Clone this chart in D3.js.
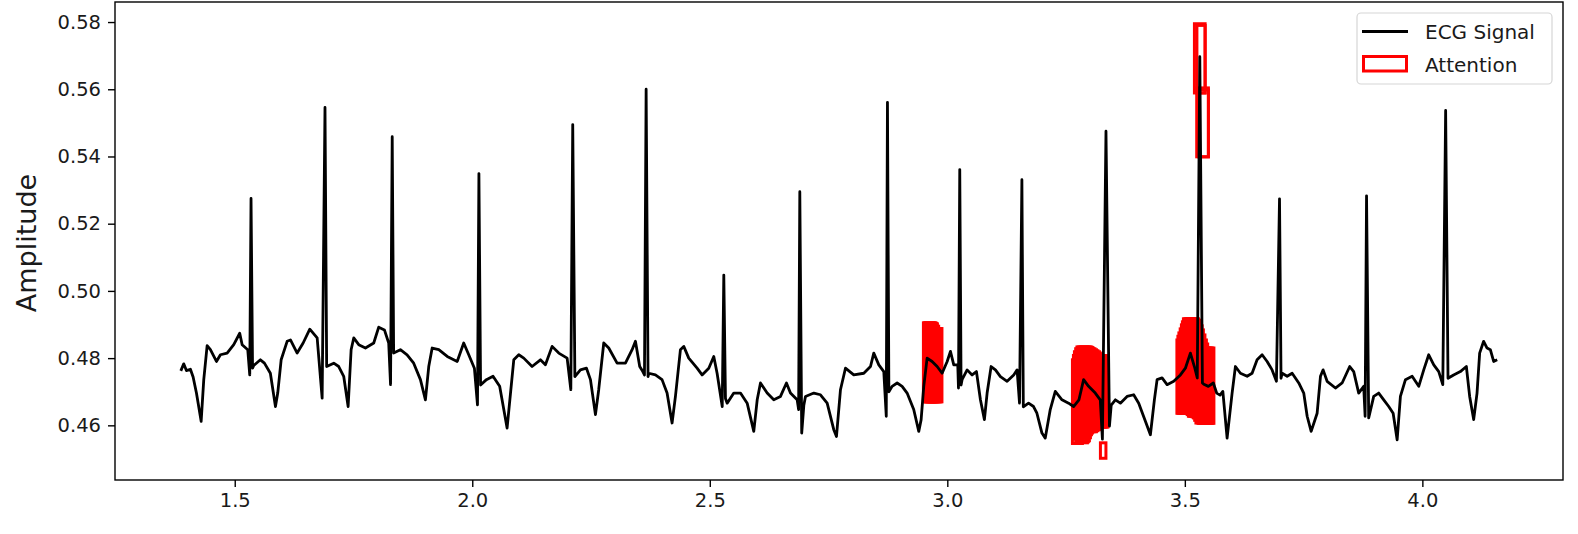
<!DOCTYPE html>
<html>
<head>
<meta charset="utf-8">
<script src="https://cdn.jsdelivr.net/npm/d3@7"></script>
<style>
    body { margin: 0; background: #fff; }
    text { font-family: "DejaVu Sans", sans-serif; }
</style>
</head>
<body>
<div id="chart"></div>
<script>
// ECG trace: [time (s), amplitude]
const ecgSignal = [
    [1.3865, 0.4762], [1.3926, 0.4783], [1.3983, 0.4763], [1.4067, 0.4767], [1.4124, 0.4744],
    [1.4194, 0.4696], [1.4293, 0.4612], [1.4348, 0.4736], [1.4419, 0.4837], [1.4488, 0.4825],
    [1.4615, 0.4790], [1.4699, 0.4810], [1.4840, 0.4815], [1.4979, 0.4840], [1.5105, 0.4874],
    [1.5156, 0.4840], [1.5274, 0.4825], [1.5316, 0.4750], [1.5343, 0.5275], [1.5375, 0.4770],
    [1.5400, 0.4778], [1.5540, 0.4795], [1.5625, 0.4785], [1.5750, 0.4755], [1.5857, 0.4656],
    [1.5905, 0.4696], [1.5977, 0.4795], [1.6103, 0.4850], [1.6173, 0.4854], [1.6314, 0.4815],
    [1.6440, 0.4845], [1.6580, 0.4886], [1.6735, 0.4860], [1.6840, 0.4681], [1.6900, 0.5546],
    [1.6935, 0.4775], [1.7084, 0.4785], [1.7189, 0.4775], [1.7294, 0.4746], [1.7387, 0.4656],
    [1.7450, 0.4825], [1.7505, 0.4860], [1.7610, 0.4840], [1.7751, 0.4830], [1.7926, 0.4845],
    [1.8031, 0.4892], [1.8151, 0.4884], [1.8241, 0.4845], [1.8280, 0.4721], [1.8315, 0.5459],
    [1.8345, 0.4815], [1.8487, 0.4825], [1.8628, 0.4810], [1.8767, 0.4785], [1.8909, 0.4736],
    [1.9014, 0.4676], [1.9084, 0.4775], [1.9156, 0.4830], [1.9295, 0.4825], [1.9473, 0.4805],
    [1.9683, 0.4790], [1.9820, 0.4845], [1.9926, 0.4810], [2.0045, 0.4770], [2.0110, 0.4661],
    [2.0140, 0.5349], [2.0175, 0.4720], [2.0298, 0.4736], [2.0437, 0.4746], [2.0577, 0.4716],
    [2.0733, 0.4592], [2.0874, 0.4795], [2.0979, 0.4810], [2.1084, 0.4800], [2.1259, 0.4775],
    [2.1435, 0.4795], [2.1540, 0.4780], [2.1681, 0.4835], [2.1821, 0.4815], [2.1997, 0.4800],
    [2.2075, 0.4706], [2.2115, 0.5495], [2.2160, 0.4745], [2.2277, 0.4765], [2.2404, 0.4770],
    [2.2488, 0.4736], [2.2593, 0.4632], [2.2662, 0.4706], [2.2768, 0.4845], [2.2873, 0.4830],
    [2.3049, 0.4785], [2.3224, 0.4785], [2.3365, 0.4825], [2.3435, 0.4850], [2.3525, 0.4775],
    [2.3590, 0.4760], [2.3625, 0.4750], [2.3660, 0.5600], [2.3700, 0.4745], [2.3716, 0.4755],
    [2.3856, 0.4750], [2.3995, 0.4736], [2.4101, 0.4696], [2.4206, 0.4607], [2.4277, 0.4686],
    [2.4382, 0.4825], [2.4452, 0.4835], [2.4557, 0.4800], [2.4733, 0.4770], [2.4838, 0.4750],
    [2.4979, 0.4770], [2.5084, 0.4805], [2.5154, 0.4755], [2.5262, 0.4656], [2.5295, 0.5047],
    [2.5330, 0.4680], [2.5366, 0.4666], [2.5505, 0.4696], [2.5646, 0.4696], [2.5787, 0.4666],
    [2.5926, 0.4582], [2.5998, 0.4676], [2.6067, 0.4726], [2.6208, 0.4696], [2.6347, 0.4676],
    [2.6488, 0.4686], [2.6614, 0.4726], [2.6698, 0.4696], [2.6839, 0.4676], [2.6870, 0.4647],
    [2.6895, 0.5295], [2.6935, 0.4577], [2.6980, 0.4660], [2.7014, 0.4686], [2.7190, 0.4696],
    [2.7330, 0.4691], [2.7471, 0.4666], [2.7610, 0.4587], [2.7667, 0.4567], [2.7751, 0.4706],
    [2.7856, 0.4770], [2.8031, 0.4750], [2.8242, 0.4755], [2.8383, 0.4775], [2.8452, 0.4815],
    [2.8558, 0.4780], [2.8663, 0.4760], [2.8715, 0.4627], [2.8740, 0.5561], [2.8770, 0.4700],
    [2.8838, 0.4716], [2.8944, 0.4726], [2.9049, 0.4716], [2.9154, 0.4696], [2.9293, 0.4647],
    [2.9399, 0.4582], [2.9449, 0.4617], [2.9504, 0.4716], [2.9575, 0.4800], [2.9680, 0.4790],
    [2.9786, 0.4775], [2.9891, 0.4755], [2.9997, 0.4790], [3.0066, 0.4820], [3.0136, 0.4780],
    [3.0220, 0.4780], [3.0235, 0.4711], [3.0262, 0.5361], [3.0290, 0.4720], [3.0311, 0.4736],
    [3.0417, 0.4765], [3.0522, 0.4750], [3.0613, 0.4760], [3.0697, 0.4676], [3.0781, 0.4617],
    [3.0838, 0.4696], [3.0922, 0.4775], [3.1013, 0.4765], [3.1118, 0.4745], [3.1259, 0.4731],
    [3.1398, 0.4750], [3.1469, 0.4765], [3.1520, 0.4666], [3.1570, 0.5331], [3.1600, 0.4655],
    [3.1710, 0.4666], [3.1815, 0.4656], [3.1886, 0.4636], [3.1992, 0.4577], [3.2062, 0.4562],
    [3.2167, 0.4647], [3.2273, 0.4701], [3.2414, 0.4676], [3.2553, 0.4666], [3.2658, 0.4656],
    [3.2771, 0.4676], [3.2869, 0.4736], [3.2974, 0.4716], [3.3115, 0.4696], [3.3220, 0.4676],
    [3.3265, 0.4559], [3.3340, 0.5475], [3.3413, 0.4598], [3.3450, 0.4660], [3.3538, 0.4676],
    [3.3643, 0.4666], [3.3784, 0.4686], [3.3923, 0.4691], [3.4029, 0.4666], [3.4170, 0.4612],
    [3.4275, 0.4572], [3.4359, 0.4676], [3.4416, 0.4736], [3.4521, 0.4741], [3.4626, 0.4721],
    [3.4766, 0.4731], [3.4907, 0.4750], [3.5012, 0.4770], [3.5117, 0.4815], [3.5201, 0.4775],
    [3.5262, 0.4741], [3.5315, 0.5697], [3.5370, 0.4726], [3.5400, 0.4722], [3.5495, 0.4716],
    [3.5600, 0.4726], [3.5671, 0.4696], [3.5741, 0.4690], [3.5800, 0.4701], [3.5890, 0.4562],
    [3.5995, 0.4696], [3.6065, 0.4775], [3.6170, 0.4755], [3.6311, 0.4746], [3.6416, 0.4755],
    [3.6521, 0.4795], [3.6627, 0.4810], [3.6732, 0.4790], [3.6837, 0.4765], [3.6928, 0.4731],
    [3.6993, 0.5274], [3.7025, 0.4740], [3.7049, 0.4755], [3.7154, 0.4746], [3.7259, 0.4755],
    [3.7398, 0.4726], [3.7503, 0.4696], [3.7575, 0.4627], [3.7659, 0.4582], [3.7785, 0.4636],
    [3.7855, 0.4746], [3.7911, 0.4765], [3.7995, 0.4731], [3.8170, 0.4711], [3.8311, 0.4726],
    [3.8471, 0.4775], [3.8555, 0.4760], [3.8660, 0.4696], [3.8765, 0.4716], [3.8795, 0.4627],
    [3.8825, 0.5283], [3.8870, 0.4622], [3.8900, 0.4640], [3.8976, 0.4686], [3.9081, 0.4696],
    [3.9187, 0.4676], [3.9292, 0.4656], [3.9385, 0.4636], [3.9469, 0.4557], [3.9538, 0.4686],
    [3.9644, 0.4736], [3.9785, 0.4746], [3.9924, 0.4716], [4.0029, 0.4765], [4.0134, 0.4810],
    [4.0240, 0.4780], [4.0345, 0.4760], [4.0430, 0.4721], [4.0490, 0.5537], [4.0540, 0.4740],
    [4.0658, 0.4750], [4.0800, 0.4760], [4.0926, 0.4775], [4.0996, 0.4686], [4.1080, 0.4617],
    [4.1151, 0.4696], [4.1206, 0.4815], [4.1290, 0.4850], [4.1362, 0.4830], [4.1431, 0.4825],
    [4.1501, 0.4790], [4.1575, 0.4795]
];

// attention windows: [t start, t end, amp low, amp high]
const attentionA = [
    [2.9497, 2.9708, 0.4670, 0.4905], [2.9518, 2.9729, 0.4670, 0.4905],
    [2.9539, 2.9750, 0.4670, 0.4905], [2.9560, 2.9771, 0.4670, 0.4904],
    [2.9581, 2.9792, 0.4670, 0.4902], [2.9602, 2.9818, 0.4670, 0.4895],
    [2.9623, 2.9844, 0.4670, 0.4888], [2.9650, 2.9866, 0.4670, 0.4888],
    [2.9676, 2.9887, 0.4670, 0.4888]
];
const attentionB = [
    [3.2634, 3.2844, 0.4546, 0.4795], [3.2655, 3.2865, 0.4560, 0.4808],
    [3.2676, 3.2886, 0.4569, 0.4819], [3.2702, 3.2918, 0.4552, 0.4828],
    [3.2728, 3.2949, 0.4548, 0.4833], [3.2749, 3.2970, 0.4551, 0.4833],
    [3.2770, 3.2991, 0.4554, 0.4833], [3.2797, 3.3013, 0.4563, 0.4833],
    [3.2823, 3.3034, 0.4572, 0.4833], [3.2844, 3.3055, 0.4577, 0.4832],
    [3.2865, 3.3076, 0.4581, 0.4830], [3.2892, 3.3108, 0.4581, 0.4828],
    [3.2918, 3.3139, 0.4581, 0.4825], [3.2944, 3.3170, 0.4584, 0.4822],
    [3.2970, 3.3202, 0.4587, 0.4819], [3.2997, 3.3223, 0.4590, 0.4815],
    [3.3023, 3.3244, 0.4593, 0.4810], [3.3050, 3.3270, 0.4594, 0.4808],
    [3.3076, 3.3297, 0.4595, 0.4807], [3.3102, 3.3318, 0.4595, 0.4807],
    [3.3128, 3.3339, 0.4595, 0.4807], [3.3155, 3.3360, 0.4595, 0.4807],
    [3.3181, 3.3381, 0.4595, 0.4807],
    [3.3223, 3.3339, 0.4502, 0.4548]
];
const attentionC = [
    [3.4833, 3.5033, 0.4636, 0.4854], [3.4854, 3.5054, 0.4636, 0.4865],
    [3.4875, 3.5075, 0.4636, 0.4875], [3.4902, 3.5102, 0.4636, 0.4887],
    [3.4928, 3.5128, 0.4636, 0.4899], [3.4949, 3.5155, 0.4636, 0.4908],
    [3.4970, 3.5181, 0.4636, 0.4917], [3.4997, 3.5207, 0.4636, 0.4917],
    [3.5023, 3.5233, 0.4636, 0.4917], [3.5049, 3.5260, 0.4632, 0.4917],
    [3.5075, 3.5286, 0.4627, 0.4917], [3.5102, 3.5312, 0.4627, 0.4913],
    [3.5128, 3.5339, 0.4627, 0.4908], [3.5155, 3.5365, 0.4625, 0.4896],
    [3.5181, 3.5391, 0.4622, 0.4884], [3.5207, 3.5423, 0.4615, 0.4869],
    [3.5233, 3.5454, 0.4607, 0.4854], [3.5260, 3.5481, 0.4607, 0.4842],
    [3.5286, 3.5507, 0.4606, 0.4830], [3.5312, 3.5534, 0.4606, 0.4830],
    [3.5339, 3.5560, 0.4606, 0.4830], [3.5365, 3.5586, 0.4606, 0.4830],
    [3.5391, 3.5612, 0.4606, 0.4830]
];
const attentionPeak = [
    [3.5202, 3.5427, 0.5589, 0.5795], [3.5254, 3.5427, 0.5589, 0.5790],
    [3.5250, 3.5496, 0.5399, 0.5604], [3.5292, 3.5496, 0.5399, 0.5598]
];

const xTicks = [1.5, 2.0, 2.5, 3.0, 3.5, 4.0];
const yTicks = [0.46, 0.48, 0.50, 0.52, 0.54, 0.56, 0.58];
const legendLabels = ["ECG Signal", "Attention"];

class Ecg_Plot {
    constructor() {
        this.svgWidth = 1578;
        this.svgHeight = 534;
        this.left = 115;
        this.right = 1563;
        this.top = 2;
        this.bottom = 480;

        this.svg = d3.select("#chart").append('svg')
            .attr('width', this.svgWidth)
            .attr('height', this.svgHeight);

        this.boxes = [].concat(attentionA, attentionB, attentionC, attentionPeak);

        //matplotlib style limits: data extent plus 5% each side
        let xExt = d3.extent(ecgSignal, d => d[0]);
        let yLo = d3.min([d3.min(ecgSignal, d => d[1]), d3.min(this.boxes, d => d[2])]);
        let yHi = d3.max([d3.max(ecgSignal, d => d[1]), d3.max(this.boxes, d => d[3])]);
        let xPad = (xExt[1] - xExt[0]) * 0.05;
        let yPad = (yHi - yLo) * 0.05;

        this.x = d3.scaleLinear()
            .domain([xExt[0] - xPad, xExt[1] + xPad])
            .range([this.left, this.right]);
        this.y = d3.scaleLinear()
            .domain([yLo - yPad, yHi + yPad])
            .range([this.bottom, this.top]);
    }

    draw() {
        let x = this.x, y = this.y;

        this.svg.append('g')
            .selectAll('rect')
            .data(this.boxes)
            .join('rect')
            .attr('x', d => x(d[0]))
            .attr('y', d => y(d[3]))
            .attr('width', d => x(d[1]) - x(d[0]))
            .attr('height', d => y(d[2]) - y(d[3]))
            .attr('fill', 'none')
            .attr('stroke', 'red')
            .attr('stroke-width', 3);

        this.svg.append('path')
            .datum(ecgSignal)
            .attr('fill', 'none')
            .attr('stroke', 'black')
            .attr('stroke-width', 2.8)
            .attr('stroke-linejoin', 'round')
            .attr('d', d3.line().x(d => x(d[0])).y(d => y(d[1])));

        //axes
        let xAxis = this.svg.append('g')
            .attr('transform', `translate(0,${this.bottom})`)
            .call(d3.axisBottom(x).tickValues(xTicks).tickFormat(d3.format('.1f'))
                .tickSize(7).tickPadding(6));
        let yAxis = this.svg.append('g')
            .attr('transform', `translate(${this.left},0)`)
            .call(d3.axisLeft(y).tickValues(yTicks).tickFormat(d3.format('.2f'))
                .tickSize(7).tickPadding(7));

        [xAxis, yAxis].forEach(a => {
            a.select('.domain').remove();
            a.selectAll('line').attr('stroke', 'black').attr('stroke-width', 1.4);
            a.selectAll('text')
                .attr('fill', '#1a1a1a')
                .style('font-size', '19.5px')
                .style('font-family', '"DejaVu Sans", sans-serif');
        });

        this.svg.append('rect')
            .attr('x', this.left)
            .attr('y', this.top)
            .attr('width', this.right - this.left)
            .attr('height', this.bottom - this.top)
            .attr('fill', 'none')
            .attr('stroke', 'black')
            .attr('stroke-width', 1.4);

        this.svg.append('text')
            .attr('transform', `translate(36,${(this.top + this.bottom) / 2 + 2}) rotate(-90)`)
            .attr('text-anchor', 'middle')
            .attr('fill', '#1a1a1a')
            .style('font-size', '27px')
            .text("Amplitude");

        this.drawLegend();
    }

    drawLegend() {
        let lg = this.svg.append('g');

        lg.append('rect')
            .attr('x', 1357)
            .attr('y', 13)
            .attr('width', 195)
            .attr('height', 71)
            .attr('rx', 4)
            .attr('fill', 'white')
            .attr('fill-opacity', 0.8)
            .attr('stroke', '#d6d6d6')
            .attr('stroke-width', 1.2);

        lg.append('line')
            .attr('x1', 1362)
            .attr('x2', 1408)
            .attr('y1', 31.5)
            .attr('y2', 31.5)
            .attr('stroke', 'black')
            .attr('stroke-width', 2.8);

        lg.append('rect')
            .attr('x', 1363.5)
            .attr('y', 56.5)
            .attr('width', 43)
            .attr('height', 14.5)
            .attr('fill', 'none')
            .attr('stroke', 'red')
            .attr('stroke-width', 3);

        lg.selectAll('text.lab')
            .data(legendLabels)
            .join('text')
            .attr('class', 'lab')
            .attr('x', 1425)
            .attr('y', (d, i) => 38.5 + i * 33)
            .attr('fill', '#1a1a1a')
            .style('font-size', '20px')
            .text(d => d);
    }
}

let plot = new Ecg_Plot();
plot.draw();
</script>
</body>
</html>
